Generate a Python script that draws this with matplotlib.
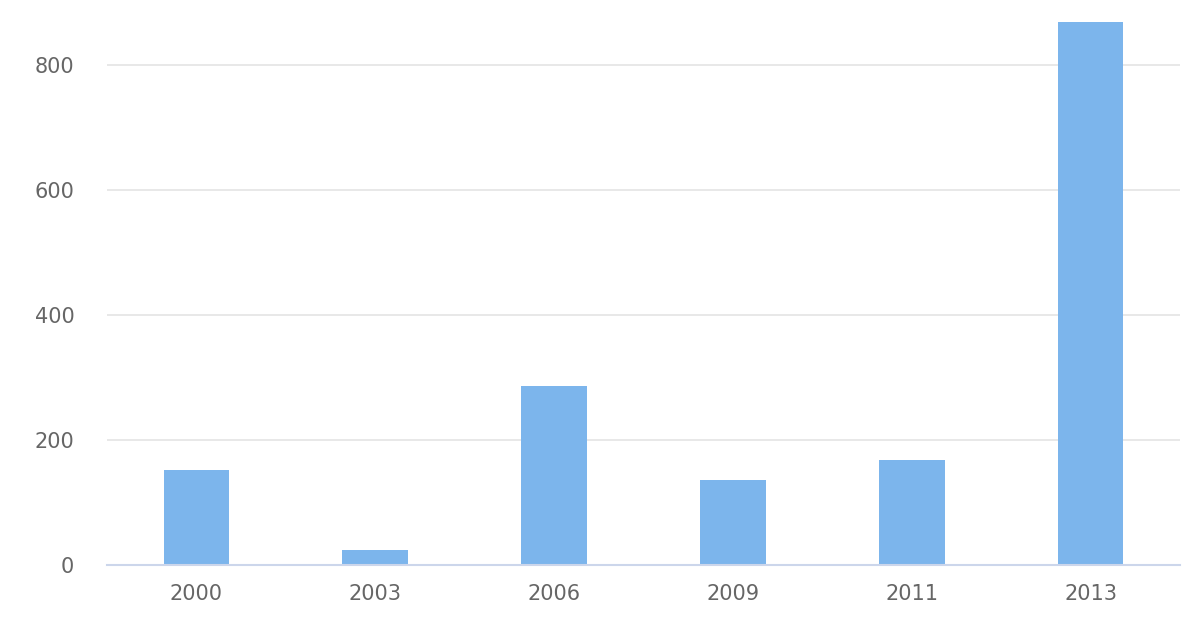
import matplotlib
matplotlib.use("Agg")
import matplotlib.pyplot as plt

categories = ["2000", "2003", "2006", "2009", "2011", "2013"]
values = [152, 24, 286, 136, 168, 869]
yticks = [0, 200, 400, 600, 800]

fig = plt.figure(figsize=(12, 6.4), dpi=100)
ax = fig.add_axes([107/1200, (640-565)/640, 1073/1200, (565-10)/640])

x = list(range(len(categories)))
ax.bar(x, values, width=0.368, color="#7cb5ec", zorder=3)

ax.set_xlim(-0.5, len(categories) - 0.5)
ax.set_ylim(0, 555/0.625)
ax.set_yticks(yticks)
ax.set_xticks(x)
ax.set_xticklabels(categories)

for s in ["top", "right", "left"]:
    ax.spines[s].set_visible(False)
ax.spines["bottom"].set_color("#ccd6eb")
ax.spines["bottom"].set_linewidth(1.5)
ax.spines["bottom"].set_zorder(4)

ax.grid(axis="y", color="#e6e6e6", linewidth=1.3, zorder=0)
ax.tick_params(axis="both", length=0, labelsize=15, labelcolor="#666666")
ax.tick_params(axis="y", pad=23.5)
ax.tick_params(axis="x", pad=14)

fig.savefig("out.png", dpi=100)
